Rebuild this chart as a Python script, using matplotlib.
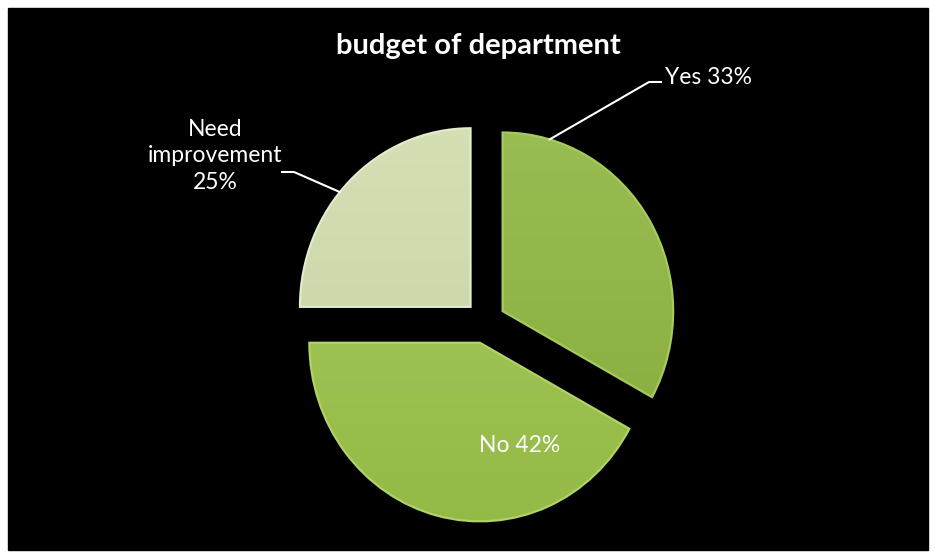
import numpy as np
import matplotlib
matplotlib.use("Agg")
import matplotlib.pyplot as plt
from matplotlib.patches import Rectangle
from matplotlib.lines import Line2D
from matplotlib.colors import to_rgb

W, H = 935, 558

title = "budget of department"
labels = ["Yes", "No", "Need improvement"]
shares = [33, 42, 25]
colors = ["#8db53d", "#9dc54a", "#d0dcab"]
edge_colors = ["#a6ca5c", "#b0d266", "#e2ead0"]


def px(x, y):
    # pixel position measured from the top-left corner -> figure fraction
    return x / W, 1 - y / H


def shade(color, top_boost=0.12, bottom_drop=0.06, n=256):
    # vertical gradient: a touch lighter at the top, a touch darker at the bottom
    c = np.array(to_rgb(color))
    top = c + (1 - c) * top_boost
    bot = c * (1 - bottom_drop)
    t = np.linspace(0, 1, n)[:, None]
    col = top * (1 - t) + bot * t
    return np.repeat(col[:, None, :], 2, axis=1)


def main():
    plt.rcParams["font.family"] = ["Lato", "DejaVu Sans"]
    fig = plt.figure(figsize=(W / 100, H / 100), dpi=100, facecolor="white")

    # black chart area inside a thin white margin
    fig.patches.append(Rectangle(px(8, 550), 920 / W, 542 / H,
                                 transform=fig.transFigure, color="black", zorder=-10))

    l, t = px(294, 122)
    r, b = px(676, 522)
    ax = fig.add_axes([l, b, r - l, t - b])
    ax.set_zorder(5)
    ax.set_facecolor("none")

    explode = [0.12] * len(shares)
    wedges, _ = ax.pie(shares, colors=colors, startangle=90, counterclock=False,
                       explode=explode, radius=1.0,
                       wedgeprops=dict(linewidth=1.6))
    for w, c, ec in zip(wedges, colors, edge_colors):
        img = ax.imshow(shade(c), extent=(-1.2, 1.2, -1.2, 1.2), origin="upper",
                        interpolation="bilinear", zorder=0.5)
        img.set_clip_path(w)
        w.set_facecolor("none")
        w.set_edgecolor(ec)
        w.set_zorder(1)
    ax.set_xlim(-1.12, 1.12)
    ax.set_ylim(-1.12, 1.12)
    ax.set_aspect("auto")
    ax.axis("off")

    fig.text(*px(478, 46), title, color="white", fontsize=21, fontweight="bold",
             ha="center", va="center", zorder=10)

    def wedge_point(w, ang, frac=1.0):
        cx, cy = w.center
        rad = w.r * frac
        p = (cx + rad * np.cos(np.radians(ang)), cy + rad * np.sin(np.radians(ang)))
        disp = ax.transData.transform(p)
        return fig.transFigure.inverted().transform(disp)

    def leader(w, ang, elbow, tick_end):
        p = wedge_point(w, ang)
        e = px(*elbow)
        te = px(*tick_end)
        fig.lines.append(Line2D([p[0], e[0], te[0]], [p[1], e[1], te[1]],
                                transform=fig.transFigure, color="white", lw=1.5,
                                zorder=10))

    # Yes label with leader
    leader(wedges[0], 74, (649, 82), (661, 82))
    fig.text(*px(665, 77), f"{labels[0]} {shares[0]}%", color="white",
             fontsize=16.5, ha="left", va="center", zorder=10)

    # Need improvement label with leader
    leader(wedges[2], 140, (294, 172), (282, 172))
    fig.text(*px(215, 156), f"Need\nimprovement\n{shares[2]}%", color="white",
             fontsize=16.5, ha="center", va="center", linespacing=1.3, zorder=10)

    # No label inside its slice
    no_pos = wedge_point(wedges[1], -68, 0.62)
    fig.text(*no_pos, f"{labels[1]} {shares[1]}%", color="white", fontsize=16.5,
             ha="center", va="center", zorder=10)

    fig.savefig("out.png", dpi=100, facecolor="white")


if __name__ == "__main__":
    main()
